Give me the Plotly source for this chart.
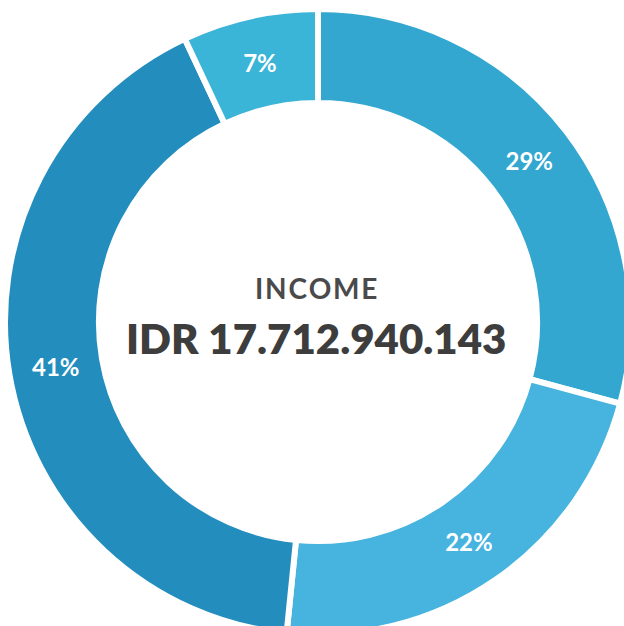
import plotly.graph_objects as go

# Data (clockwise from 12 o'clock)
labels = ["Segment A", "Segment B", "Segment C", "Segment D"]
values = [29.2, 22.4, 41.4, 7.0]
colors = ["#33A7CF", "#47B3DF", "#238DBE", "#3AB4D7"]

title_small = "\u200a".join("INCOME")
title_big = "IDR 17.712.940.143"

W, H = 640, 640
R = 313
cx, cy = 318, 322

fig = go.Figure(go.Pie(
    labels=labels,
    values=values,
    sort=False,
    direction="clockwise",
    rotation=0,
    hole=0.70,
    marker=dict(colors=colors, line=dict(color="white", width=6)),
    texttemplate="%{percent:.0%}",
    textposition="inside",
    insidetextorientation="horizontal",
    textfont=dict(family="Lato", size=24, color="white", weight=700),
    showlegend=False,
    hoverinfo="label+percent",
    domain=dict(x=[(cx - R) / W, (cx + R) / W], y=[1 - (cy + R) / H, 1 - (cy - R) / H]),
))

fig.add_annotation(x=316 / W, y=1 - 288 / H, xref="paper", yref="paper",
                   text=title_small, showarrow=False, xanchor="center", yanchor="middle",
                   font=dict(family="Lato", size=28, color="#4a4a4a", weight=700))
fig.add_annotation(x=316 / W, y=1 - 338 / H, xref="paper", yref="paper",
                   text=title_big, showarrow=False, xanchor="center", yanchor="middle",
                   font=dict(family="Lato", size=42, color="#3d3d3d", weight=800))

fig.update_layout(width=W, height=H, margin=dict(l=0, r=0, t=0, b=0),
                  paper_bgcolor="white", plot_bgcolor="white")

fig.write_html("out.html", config={"displayModeBar": False}, post_script=(
    "document.body.style.margin='0';"
    "document.body.style.overflow='hidden';"
    "document.documentElement.style.overflow='hidden';"
))
